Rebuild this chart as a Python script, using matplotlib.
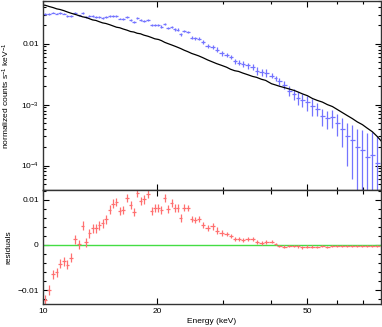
import numpy as np
import matplotlib
matplotlib.use("Agg")
import matplotlib.pyplot as plt
from matplotlib.ticker import FixedLocator, FixedFormatter, MultipleLocator, NullFormatter

plt.rcParams['font.family'] = ['Liberation Sans', 'DejaVu Sans']
plt.rcParams['mathtext.fontset'] = 'custom'
plt.rcParams['mathtext.rm'] = 'Liberation Sans'
plt.rcParams['mathtext.it'] = 'Liberation Sans:italic'

# channel energies (keV)
energy = [10.12, 10.37, 10.65, 10.87, 11.09, 11.36, 11.59, 11.85, 12.15, 12.45,
          12.73, 12.99, 13.25, 13.52, 13.80, 14.08, 14.37, 14.66, 15.02, 15.32,
          15.64, 15.96, 16.28, 16.69, 17.04, 17.39, 17.74, 18.11, 18.47, 18.96,
          19.36, 19.75, 20.20, 20.57, 20.98, 21.41, 21.90, 22.30, 22.71, 23.13,
          23.62, 24.13, 24.73, 25.26, 25.80, 26.44, 27.25, 28.09, 28.78, 29.67,
          30.59, 31.33, 32.11, 32.90, 33.71, 34.75, 35.82, 36.70, 37.83, 38.76,
          40.20, 41.19, 42.20, 43.50, 44.84, 46.23, 47.37, 48.53, 50.03, 51.57,
          53.16, 54.81, 56.49, 58.24, 60.03, 61.88, 63.79, 65.76, 67.79, 69.89,
          72.03, 74.24, 76.53]

# observed spectrum (counts s^-1 keV^-1)
data = [0.0305, 0.0307, 0.0324, 0.0311, 0.0321, 0.0311, 0.0287, 0.0288, 0.0315, 0.0290,
        0.0318, 0.0275, 0.0283, 0.0282, 0.0277, 0.0273, 0.0267, 0.0271, 0.0282, 0.0286,
        0.0282, 0.0258, 0.0252, 0.0270, 0.0247, 0.0228, 0.0263, 0.0243, 0.0239, 0.0245,
        0.0202, 0.0202, 0.0200, 0.0190, 0.0209, 0.0180, 0.0189, 0.0173, 0.0169, 0.0142,
        0.0161, 0.0156, 0.0126, 0.0122, 0.0120, 0.0106, 0.0091, 0.0089, 0.0080, 0.0070,
        0.0066, 0.0060, 0.0052, 0.0049, 0.0046, 0.0044, 0.0042, 0.0036, 0.0034, 0.0033,
        0.0030, 0.0027, 0.0024, 0.0021, 0.0017, 0.0015, 0.0013, 0.0012, 0.0011, 0.00095,
        0.00085, 0.00065, 0.00060, 0.00062, 0.00050, 0.00040, 0.00030, 0.00026, 0.00020, 0.00018,
        0.00014, 0.00015, 0.00011]

# folded model
model = [0.0427, 0.0407, 0.0389, 0.0372, 0.0363, 0.0347, 0.0331, 0.0316, 0.0302, 0.0288,
         0.0275, 0.0269, 0.0257, 0.0245, 0.0240, 0.0229, 0.0219, 0.0214, 0.0204, 0.0195,
         0.0186, 0.0182, 0.0174, 0.0166, 0.0158, 0.0155, 0.0148, 0.0145, 0.0138, 0.0132,
         0.0126, 0.0120, 0.0117, 0.0112, 0.0105, 0.0100, 0.0095, 0.0091, 0.0087, 0.0083,
         0.0078, 0.0074, 0.0069, 0.0066, 0.0063, 0.0059, 0.0054, 0.0050, 0.0047, 0.0044,
         0.0041, 0.0038, 0.0036, 0.0035, 0.0033, 0.0031, 0.0029, 0.0028, 0.0026, 0.0025,
         0.0022, 0.0021, 0.0020, 0.0019, 0.0018, 0.0017, 0.0016, 0.0015, 0.0014, 0.00126,
         0.00117, 0.00110, 0.00100, 0.00093, 0.00083, 0.00074, 0.00066, 0.00059, 0.00052, 0.00047,
         0.00041, 0.00036, 0.00030]

# residuals (data - model)
resid = [-0.0122, -0.0100, -0.0065, -0.0061, -0.0042, -0.0036, -0.0044, -0.0028, 0.0013, 0.0002,
         0.0043, 0.0006, 0.0026, 0.0037, 0.0037, 0.0044, 0.0048, 0.0057, 0.0078, 0.0091,
         0.0096, 0.0076, 0.0078, 0.0104, 0.0089, 0.0073, 0.0115, 0.0098, 0.0101, 0.0113,
         0.0076, 0.0082, 0.0083, 0.0078, 0.0104, 0.0080, 0.0094, 0.0082, 0.0082, 0.0059,
         0.0083, 0.0082, 0.0057, 0.0056, 0.0057, 0.0044, 0.0037, 0.0041, 0.0032, 0.0026,
         0.0024, 0.0020, 0.0013, 0.0013, 0.0011, 0.0013, 0.0013, 0.0007, 0.0004, 0.0007,
         0.0007, 0.0002, -0.0002, -0.0004, -0.0002, -0.0002, -0.0003, -0.0005, -0.0004, -0.0004,
         -0.0004, -0.0003, -0.0004, -0.0003, -0.0003, -0.0003, -0.0003, -0.0003, -0.0002, -0.0002,
         -0.0002, -0.0002, -0.0002]

# 1-sigma errors
err = [0.0012, 0.0011, 0.0010, 0.0010, 0.0010, 0.0010, 0.0010, 0.0010, 0.0010, 0.0010,
       0.0010, 0.0010, 0.0010, 0.0010, 0.0010, 0.0010, 0.0010, 0.0010, 0.0010, 0.0010,
       0.0009, 0.0009, 0.0009, 0.0009, 0.0009, 0.0009, 0.0009, 0.0009, 0.0009, 0.0009,
       0.0009, 0.0009, 0.0009, 0.0009, 0.0009, 0.0009, 0.0009, 0.0009, 0.0009, 0.0009,
       0.0007, 0.0007, 0.0007, 0.0007, 0.0007, 0.0007, 0.0007, 0.0007, 0.0007, 0.0007,
       0.0005, 0.0005, 0.0005, 0.0005, 0.0005, 0.0005, 0.0005, 0.0005, 0.0005, 0.0005,
       0.0003, 0.0003, 0.0003, 0.0003, 0.0003, 0.0003, 0.0003, 0.0003, 0.0003, 0.0003,
       0.0002, 0.0002, 0.0002, 0.0002, 0.0002, 0.0002, 0.0002, 0.0002, 0.0002, 0.0002,
       0.0002, 0.0002, 0.0002]

e = np.array(energy)
d = np.array(data)
er = np.array(err)
# bin edges halfway (in log) between channels
mid = np.sqrt(e[1:] * e[:-1])
edges = np.concatenate([[e[0] ** 2 / mid[0]], mid, [e[-1] ** 2 / mid[-1]]])
xerr = np.vstack([e - edges[:-1], edges[1:] - e])

fig = plt.figure(figsize=(3.82, 3.27), dpi=100)
ax1 = fig.add_axes([0.1126, 0.419, 0.8848, 0.5779])
ax2 = fig.add_axes([0.1126, 0.0703, 0.8848, 0.3487], sharex=ax1)

# top panel: data + model
lo = np.minimum(er, d * 0.999)
ax1.errorbar(e, d, yerr=[lo, er], xerr=xerr, fmt='none', ecolor='#7474ff', elinewidth=0.9)
mx = np.concatenate([[10.0], e, [78.3]])
my = np.concatenate([[model[0]], model, [model[-1] * 0.85]])
ax1.plot(mx, my, color='black', lw=0.9)
ax1.set_xscale('log')
ax1.set_yscale('log')
ax1.set_xlim(10, 78.3)
ax1.set_ylim(3.98e-5, 0.050)
ax1.yaxis.set_major_locator(FixedLocator([1e-4, 1e-3, 1e-2]))
ax1.yaxis.set_major_formatter(FixedFormatter(['$10^{-4}$', '$10^{-3}$', '0.01']))
ax1.yaxis.set_minor_formatter(NullFormatter())
ax1.set_ylabel(r'normalized counts s$^{-1}$ keV$^{-1}$', fontsize=6)
plt.setp(ax1.get_xticklabels(), visible=False)

# bottom panel: residuals
ax2.axhline(0, color='#44dd44', lw=1.0)
ax2.errorbar(e, resid, yerr=err, xerr=xerr, fmt='none', ecolor='#ff7070', elinewidth=0.9)
ax2.set_ylim(-0.0131, 0.0122)
ax2.yaxis.set_major_locator(FixedLocator([-0.01, 0, 0.01]))
ax2.yaxis.set_major_formatter(FixedFormatter(['\u22120.01', '0', '0.01']))
ax2.yaxis.set_minor_locator(MultipleLocator(0.002))
ax2.set_ylabel('residuals', fontsize=6)
ax2.set_xlabel('Energy (keV)', fontsize=6, labelpad=2)
ax2.xaxis.set_major_locator(FixedLocator([10, 20, 50]))
ax2.xaxis.set_major_formatter(FixedFormatter(['10', '20', '50']))
ax2.xaxis.set_minor_locator(FixedLocator([30, 40, 60, 70]))
ax2.xaxis.set_minor_formatter(NullFormatter())

for ax in (ax1, ax2):
    ax.tick_params(which='both', direction='in', top=True, right=True, labelsize=6, width=0.8)
    ax.tick_params(which='major', length=4, pad=3)
    ax.tick_params(which='minor', length=2.2)
    ax.yaxis.set_label_coords(-0.092, 0.5)
    for s in ax.spines.values():
        s.set_linewidth(1.0)
        s.set_color('#333333')
ax2.tick_params(axis='x', which='minor', length=3)

fig.savefig('out.png', dpi=100)
